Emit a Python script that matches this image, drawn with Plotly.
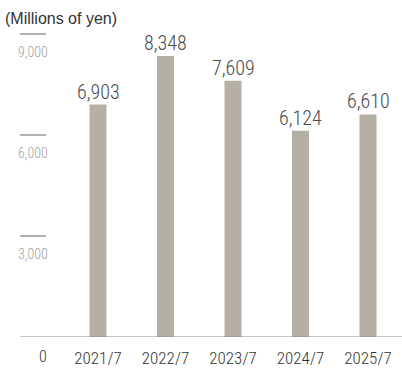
import plotly.graph_objects as go

# Fiscal periods and sales (millions of yen)
periods = ["2021/7", "2022/7", "2023/7", "2024/7", "2025/7"]
sales = [6903, 8348, 7609, 6124, 6610]
ytick_vals = [3000, 6000, 9000]
ytick_text = ["3,000", "6,000", "9,000"]

W, H = 402, 368
m_l, m_r, m_t, m_b = 0, 0, 0, 31
plot_h = H - m_t - m_b
px_per_unit = 303 / 9000
y_top = plot_h / px_per_unit

x_step = 67.5
x0 = -98 / x_step
x1 = x0 + W / x_step

NUM_FONT = "Roboto Condensed, Roboto, sans-serif"
bar_color = "#b5afa4"

fig = go.Figure(
    go.Bar(
        x=list(range(len(periods))),
        y=sales,
        width=17 / x_step,
        marker=dict(color=bar_color, line=dict(width=0)),
        hoverinfo="skip",
    )
)

annotations = []
# value labels above bars
for i, v in enumerate(sales):
    annotations.append(dict(
        x=i, y=v, xref="x", yref="y", text=f"{v:,}", showarrow=False,
        yanchor="bottom", yshift=-1,
        font=dict(family=NUM_FONT, size=20, color="#4a4a4a", weight=300),
    ))
# y tick labels below their short rules
for v, t in zip(ytick_vals, ytick_text):
    annotations.append(dict(
        x=33 / W, y=v, xref="paper", yref="y", text=t, showarrow=False,
        xanchor="center", yanchor="top", yshift=-8,
        font=dict(family=NUM_FONT, size=14, color="#a0a0a0", weight=300),
    ))
annotations.append(dict(
    x=43 / W, y=0, xref="paper", yref="y", text="0", showarrow=False,
    xanchor="center", yanchor="top", yshift=-8,
    font=dict(family=NUM_FONT, size=16, color="#333333", weight=300),
))
annotations.append(dict(
    x=3 / W, y=1, xref="paper", yref="paper", text="(Millions of yen)",
    showarrow=False, xanchor="left", yanchor="top", yshift=-8,
    font=dict(family="Liberation Sans, Arial, sans-serif", size=16, color="#333333"),
))

shapes = []
for v in ytick_vals:
    shapes.append(dict(
        type="line", xref="paper", yref="y",
        x0=20 / W, x1=46 / W, y0=v, y1=v,
        line=dict(color="#999999", width=1.5),
    ))
shapes.append(dict(
    type="line", xref="paper", yref="y",
    x0=20 / W, x1=1, y0=0, y1=0,
    line=dict(color="#8a8a8a", width=1),
))

fig.update_layout(
    width=W, height=H,
    margin=dict(l=m_l, r=m_r, t=m_t, b=m_b),
    paper_bgcolor="white", plot_bgcolor="white",
    showlegend=False,
    annotations=annotations,
    shapes=shapes,
    xaxis=dict(
        range=[x0, x1],
        tickvals=list(range(len(periods))),
        ticktext=periods,
        showgrid=False, zeroline=False, showline=False,
        ticks="", ticklabelstandoff=9,
        tickfont=dict(family=NUM_FONT, size=17, color="#333333", weight=300),
        fixedrange=True,
    ),
    yaxis=dict(
        range=[0, y_top],
        visible=False, showgrid=False, zeroline=False,
        fixedrange=True,
    ),
)

fig.write_html("out.html", config={"displayModeBar": False})
